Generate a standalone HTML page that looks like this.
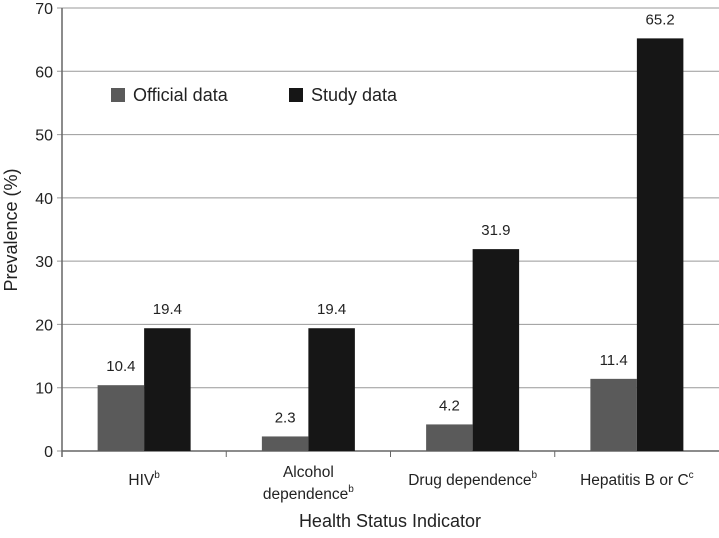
<!DOCTYPE html>
<html><head><meta charset="utf-8"><style>
body{margin:0;background:#fff;}
text{font-family:"Liberation Sans",Arial,sans-serif;fill:#222;}
</style></head><body>
<svg id="chart" width="719" height="533" xmlns="http://www.w3.org/2000/svg"></svg>
<script>
const categories=["HIV","Alcohol dependence","Drug dependence","Hepatitis B or C"];
const official=[10.4,2.3,4.2,11.4];
const study=[19.4,19.4,31.9,65.2];
const yTicks=[0,10,20,30,40,50,60,70];
const svg=document.getElementById('chart');
const NS='http://www.w3.org/2000/svg';
const x0=62,x1=719,y0=451,y1=8,yMax=70;
const bw=(x1-x0)/categories.length;
const Y=v=>y0-(v/yMax)*(y0-y1);
function el(t,a,txt){const e=document.createElementNS(NS,t);for(const k in a)e.setAttribute(k,a[k]);if(txt!=null)e.textContent=txt;svg.appendChild(e);return e;}
yTicks.forEach(t=>{
 const g=el('line',{x1:x0-5,x2:x1,y1:Y(t),y2:Y(t),stroke:'#999','stroke-width':1});
 
 
 const l=el('text',{x:x0-9,y:Y(t)+6,'text-anchor':'end','font-size':16},t);
 
 
});
const ya=el('line',{x1:x0,x2:x0,y1:y1,y2:y0+6,stroke:'#666','stroke-width':1.5});


const xa=el('line',{x1:x0,x2:x1,y1:y0,y2:y0,stroke:'#666','stroke-width':1.5});


for(let i=1;i<categories.length;i++){const t=el('line',{x1:x0+bw*i,x2:x0+bw*i,y1:y0,y2:y0+6,stroke:'#666'});}
const w=46.5;
categories.forEach((c,i)=>{
 const cx=x0+bw*i+bw/2;
 const r1=el('rect',{x:cx-w,y:Y(official[i]),width:w,height:y0-Y(official[i]),fill:'#5a5a5a'});
 
 
 const r2=el('rect',{x:cx,y:Y(study[i]),width:w,height:y0-Y(study[i]),fill:'#161616'});
 
 
 const l1=el('text',{x:cx-w/2,y:Y(official[i])-14,'text-anchor':'middle','font-size':15},official[i].toFixed(1));
 
 
 const l2=el('text',{x:cx+w/2,y:Y(study[i])-14,'text-anchor':'middle','font-size':15},study[i].toFixed(1));
 
 
});
const catLabels=[[["HIV","b"]],[["Alcohol",""],["dependence","b"]],[["Drug dependence","b"]],[["Hepatitis B or C","c"]]];
catLabels.forEach((lines,i)=>{
 const cx=x0+bw*i+bw/2;
 lines.forEach((ln,j)=>{
  const y=lines.length===1?485:(477+j*22);
  const t=el('text',{x:cx,y:y,'text-anchor':'middle','font-size':15.5});
  
  
  const s1=document.createElementNS(NS,'tspan');s1.textContent=ln[0];t.appendChild(s1);
  if(ln[1]){const s2=document.createElementNS(NS,'tspan');s2.setAttribute('font-size',10);s2.setAttribute('dy',-7);s2.textContent=ln[1];t.appendChild(s2);}
 });
});
const xt=el('text',{x:390,y:527,'text-anchor':'middle','font-size':18},'Health Status Indicator');


const yt=el('text',{x:0,y:0,'text-anchor':'middle','font-size':18,transform:'translate(17,230) rotate(-90)'},'Prevalence (%)');


const ls1=el('rect',{x:111,y:88,width:14,height:14,fill:'#5a5a5a'});


const lt1=el('text',{x:133,y:101,'font-size':18},'Official data');


const ls2=el('rect',{x:289,y:88,width:14,height:14,fill:'#161616'});


const lt2=el('text',{x:311,y:101,'font-size':18},'Study data');


</script>
</body></html>
